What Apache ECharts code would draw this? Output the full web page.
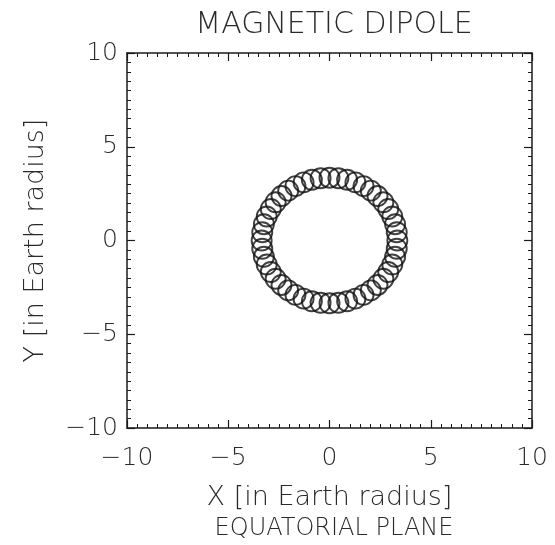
<!DOCTYPE html>
<html><head><meta charset="utf-8">
<script src="https://cdn.jsdelivr.net/npm/echarts@6/dist/echarts.min.js"></script>
<style>html,body{margin:0;padding:0;background:#fff}#c{width:555px;height:545px}</style>
</head><body><div id="c"></div>
<script>
// Gyration loop centres along the drift ring (data units, Earth radii)
const loopX = [3.35,3.32,3.24,3.10,2.90,2.66,2.37,2.04,1.68,1.28,0.87,0.44,
  0,-0.44,-0.87,-1.28,-1.68,-2.04,-2.37,-2.66,-2.90,-3.10,-3.24,-3.32,
  -3.35,-3.32,-3.24,-3.10,-2.90,-2.66,-2.37,-2.04,-1.68,-1.28,-0.87,-0.44,
  0,0.44,0.87,1.28,1.68,2.04,2.37,2.66,2.90,3.10,3.24,3.32];
const loopY = [0,0.44,0.87,1.28,1.68,2.04,2.37,2.66,2.90,3.10,3.24,3.32,
  3.35,3.32,3.24,3.10,2.90,2.66,2.37,2.04,1.68,1.28,0.87,0.44,
  0,-0.44,-0.87,-1.28,-1.68,-2.04,-2.37,-2.66,-2.90,-3.10,-3.24,-3.32,
  -3.35,-3.32,-3.24,-3.10,-2.90,-2.66,-2.37,-2.04,-1.68,-1.28,-0.87,-0.44];
const axisMin = -10, axisMax = 10, majorStep = 5;
const titleText = 'MAGNETIC DIPOLE';
const subTitleText = 'EQUATORIAL PLANE';
const xName = 'X [in Earth radius]';
const yName = 'Y [in Earth radius]';

const FONT = 'DejaVu Sans';
const ink = '#1a1a1a';
const txt = '#2a2a2a';
const chart = echarts.init(document.getElementById('c'), null, {renderer:'canvas'});
const fmt = v => String(v).replace('-', '\u2212');
function axis(extra){
  return Object.assign({
    type:'value', min:axisMin, max:axisMax, interval:majorStep,
    axisLine:{show:true, onZero:false, lineStyle:{color:ink, width:1.5}},
    axisTick:{show:true, inside:true, length:8, lineStyle:{color:ink, width:1.2}},
    minorTick:{show:true, splitNumber:10, length:4, lineStyle:{color:ink, width:1}},
    splitLine:{show:false},
    axisLabel:{show:false}
  }, extra);
}
const labelStyle = {fontFamily:FONT, fontSize:25, color:txt, fontWeight:'lighter', formatter:fmt};
const nameStyle = {fontFamily:FONT, fontSize:27, color:txt, fontWeight:'lighter'};
chart.setOption({
  animation:false,
  backgroundColor:'#fff',
  title:[
    {text:titleText, left:329, top:5, textAlign:'center',
     textStyle:{fontFamily:FONT, fontSize:30, fontWeight:'lighter', color:txt}},
    {text:subTitleText, left:329, top:512, textAlign:'center',
     textStyle:{fontFamily:FONT, fontSize:24, fontWeight:'lighter', color:txt}}
  ],
  grid:{left:127, right:23, top:53, bottom:117},
  xAxis:[
    axis({position:'bottom', axisLabel:Object.assign({show:true, margin:18}, labelStyle),
      name:xName, nameLocation:'middle', nameGap:56, nameTextStyle:nameStyle}),
    axis({position:'top'})
  ],
  yAxis:[
    axis({position:'left', axisLabel:Object.assign({show:true, margin:9}, labelStyle),
      name:yName, nameLocation:'middle', nameGap:78, nameTextStyle:nameStyle}),
    axis({position:'right'})
  ],
  series:[{
    type:'scatter', xAxisIndex:0, yAxisIndex:0,
    data: loopX.map((x,i)=>[x, loopY[i]]),
    symbol:'circle', symbolSize:20,
    itemStyle:{color:'rgba(0,0,0,0)', borderColor:'#111', borderWidth:1.9}
  }]
});
</script></body></html>
